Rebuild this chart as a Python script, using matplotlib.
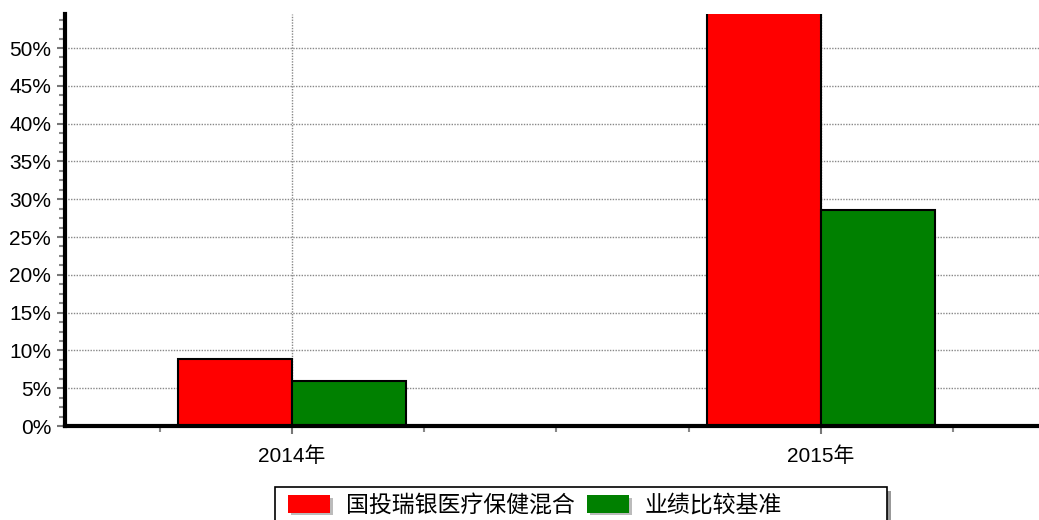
import matplotlib
matplotlib.use('Agg')
import matplotlib.pyplot as plt
import matplotlib.patheffects as pe
from matplotlib.patches import Patch, Rectangle
from matplotlib.ticker import FuncFormatter, MultipleLocator, FixedLocator
import numpy as np

plt.rcParams['font.family'] = ['Liberation Sans', 'Noto Sans CJK SC']

years = ['2014年', '2015年']
fund = [8.85, 60.0]       # 2015 bar runs past the top of the chart
benchmark = [5.95, 28.6]
series_names = ['国投瑞银医疗保健混合', '业绩比较基准']
colors = ['#ff0000', '#008000']

W, H = 1039, 520
fig = plt.figure(figsize=(W / 100, H / 100), dpi=100)
ax = fig.add_axes([65 / W, (H - 426) / H, (W - 65) / W, (426 - 14) / H])

x = np.arange(len(years))
bw = 0.2155
ax.bar(x - bw, fund, width=bw, align='edge', color=colors[0],
       edgecolor='black', linewidth=1.5, zorder=3)
ax.bar(x, benchmark, width=bw, align='edge', color=colors[1],
       edgecolor='black', linewidth=1.5, zorder=3)

ax.set_xlim(-0.429, 1.412)
ax.set_ylim(0, 54.5)
ax.set_xticks(x)
ax.set_xticklabels(years, fontsize=15)
ax.xaxis.set_minor_locator(FixedLocator([-0.25, 0.25, 0.5, 0.75, 1.25]))
ax.yaxis.set_major_locator(MultipleLocator(5))
ax.yaxis.set_minor_locator(MultipleLocator(1.25))
ax.yaxis.set_major_formatter(FuncFormatter(lambda v, p: '%d%%' % v))
for lab in ax.get_yticklabels():
    lab.set_fontsize(15)

ax.tick_params(axis='both', which='major', color='#777777', length=6, width=1.5)
ax.tick_params(axis='both', which='minor', color='#888888', length=4, width=1.5)
ax.tick_params(axis='x', which='major', pad=9)
ax.tick_params(axis='y', which='major', pad=4)

ax.grid(True, which='major', color='#888888', linestyle=(0, (1, 1)), linewidth=1, zorder=0)
ax.set_axisbelow(True)

for s in ['top', 'right']:
    ax.spines[s].set_visible(False)
ax.spines['left'].set_linewidth(3)
ax.spines['bottom'].set_linewidth(3)
ax.spines['left'].set_zorder(4)
ax.spines['bottom'].set_zorder(4)

# legend box with shadow
fig.patches.append(Rectangle((279 / W, -10 / H), (887 - 275) / W, (H + 10 - 491) / H,
                             transform=fig.transFigure, facecolor='#999999',
                             edgecolor='none', zorder=1))
fig.patches.append(Rectangle((275 / W, -10 / H), (887 - 275) / W, (H + 10 - 487) / H,
                             transform=fig.transFigure, facecolor='white',
                             edgecolor='black', linewidth=1.2, zorder=2))

shadow = [pe.SimplePatchShadow(offset=(2, -2), shadow_rgbFace='#bbbbbb', alpha=1), pe.Normal()]
handles = [Patch(facecolor=c, edgecolor='none', path_effects=shadow) for c in colors]
leg = fig.legend(handles, series_names, loc='upper left',
                 bbox_to_anchor=(288 / W, (H - 494) / H), ncol=2, frameon=False,
                 prop={'family': ['Noto Sans CJK SC'], 'size': 16.5},
                 handlelength=1.84, handleheight=0.79, handletextpad=0.7,
                 columnspacing=0.52, borderpad=0, borderaxespad=0)
leg.set_zorder(5)

fig.savefig('out.png', dpi=100)
